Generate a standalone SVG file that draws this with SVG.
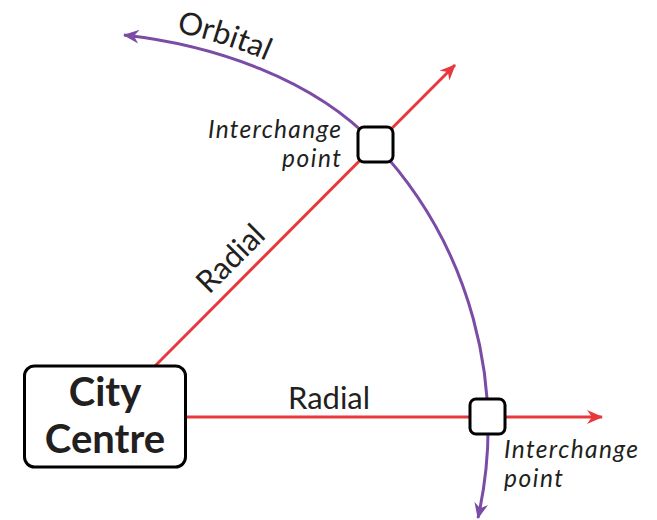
<svg xmlns="http://www.w3.org/2000/svg" width="657" height="520" viewBox="0 0 657 520">
<style>
.lbl{font-family:Lato,"Open Sans","Liberation Sans",sans-serif;fill:#231f20}
.ital{font-style:italic;font-size:24.5px}
.big{font-size:31px}
.node{fill:#fff;stroke:#000;stroke-width:3}
.red{stroke:#e8383d;stroke-width:3;fill:none}
.pur{stroke:#7b4ca6;stroke-width:3;fill:none}
</style>
<defs>
<marker id="ar" viewBox="0 0 16 14" refX="15" refY="7" markerWidth="16" markerHeight="14" markerUnits="userSpaceOnUse" orient="auto-start-reverse"><path d="M0,0 L16,7 L0,14 L5,7 z" fill="#e8383d"/></marker>
<marker id="ap" viewBox="0 0 16 14" refX="15" refY="7" markerWidth="16" markerHeight="14" markerUnits="userSpaceOnUse" orient="auto-start-reverse"><path d="M0,0 L16,7 L0,14 L5,7 z" fill="#7b4ca6"/></marker>
<path id="orbText" d="M121 23 C211 33 310.9 66.9 372.5 132.5"/>
</defs>
<g id="connectors">
<path class="red" d="M155 366 L455 65" marker-end="url(#ar)"/>
<path class="red" d="M186 417 L602 417" marker-end="url(#ar)"/>
<path class="pur" d="M124 35 C214 45 313.9 78.9 375.5 144.5 A413.4 413.4 0 0 1 478 518" marker-start="url(#ap)" marker-end="url(#ap)"/>
<text class="lbl big" text-anchor="middle" transform="rotate(-45 238 266)" x="238" y="266">Radial</text>
<text class="lbl big" text-anchor="middle" x="329" y="409">Radial</text>
<text class="lbl big"><textPath href="#orbText" startOffset="56">Orbital</textPath></text>
</g>
<g id="city-centre">
<rect class="node" x="24.5" y="366" width="161" height="101" rx="10"/>
<text class="lbl" font-weight="bold" font-size="40" text-anchor="middle" x="105" y="406">City</text>
<text class="lbl" font-weight="bold" font-size="40" text-anchor="middle" x="105" y="453">Centre</text>
</g>
<g id="interchange-1">
<rect class="node" x="358" y="127" width="35" height="35" rx="6"/>
<text class="lbl ital" text-anchor="end" x="341" y="138" textLength="133" lengthAdjust="spacing">Interchange</text>
<text class="lbl ital" text-anchor="end" x="341" y="167" textLength="59" lengthAdjust="spacing">point</text>
</g>
<g id="interchange-2">
<rect class="node" x="470" y="399" width="35" height="35" rx="6"/>
<text class="lbl ital" x="504" y="458" textLength="134" lengthAdjust="spacing">Interchange</text>
<text class="lbl ital" x="504" y="487" textLength="59" lengthAdjust="spacing">point</text>
</g>
</svg>
